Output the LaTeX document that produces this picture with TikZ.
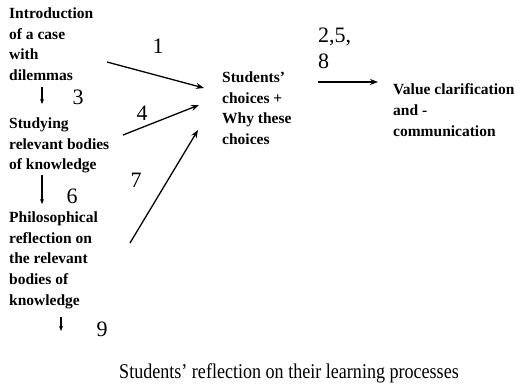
\documentclass[tikz,border=0pt]{standalone}
\usepackage{fontspec}
\setmainfont{Liberation Serif}
\newfontfamily\bottomfont[FakeStretch=0.86]{Liberation Serif}
\usetikzlibrary{arrows.meta}
\tikzset{
  blocktext/.style={anchor=north west, inner sep=0pt, align=left,
    font=\fontsize{15.5pt}{20.7pt}\selectfont\bfseries},
  numlabel/.style={anchor=center, inner sep=0pt, font=\fontsize{22pt}{24pt}\selectfont},
  numlabelw/.style={anchor=base west, inner sep=0pt, font=\fontsize{22pt}{26pt}\selectfont},
  bigarrow/.style={line width=1.3pt, -{Stealth[length=8pt,width=6pt]}},
  smallarrow/.style={line width=1.1pt, -{Stealth[length=5pt,width=4pt]}},
}
\begin{document}
\begin{tikzpicture}[x=1pt,y=-1pt]
\useasboundingbox (0,0) rectangle (522,391);
% text blocks
\node[blocktext] (intro) at (9,7.5) {Introduction\\of a case\\with\\dilemmas};
\node[blocktext] (study) at (9,117.5) {Studying\\relevant bodies\\of knowledge};
\node[blocktext] (philo) at (9,211.5) {Philosophical\\reflection on\\the relevant\\bodies of\\knowledge};
\node[blocktext] (choice) at (222,71.5) {Students’\\choices +\\Why these\\choices};
\node[blocktext] (value) at (393,83.5) {Value clarification\\and -\\communication};
\node[anchor=base, inner sep=0pt, font=\fontsize{21pt}{24pt}\bottomfont] (reflect) at (289,378) {Students’ reflection on their learning processes};
% number labels
\node[numlabel] (n1) at (158,46.5) {1};
\node[numlabel] (n3) at (78,97.5) {3};
\node[numlabel] (n4) at (142,113.5) {4};
\node[numlabel] (n6) at (72,196) {6};
\node[numlabel] (n7) at (136,180) {7};
\node[numlabel] (n9) at (102,329.5) {9};
\node[numlabelw] (n258) at (318,42) {2,5,};
\node[numlabelw] (n8) at (318,68) {8};
% connector end points
\coordinate (a1s) at (107,62);
\coordinate (a1e) at (204,88);
\coordinate (a4s) at (123,135);
\coordinate (a4e) at (199,105);
\coordinate (a7s) at (130,243);
\coordinate (a7e) at (198,130);
\coordinate (a2s) at (318,82);
\coordinate (a2e) at (378,82);
\coordinate (d1s) at (42,87);
\coordinate (d1e) at (42,104);
\coordinate (d2s) at (42,175);
\coordinate (d2e) at (42,204);
\coordinate (d3s) at (61,317);
\coordinate (d3e) at (61,331);
% arrows
\draw[bigarrow] (a1s) -- (a1e);
\draw[bigarrow] (a4s) -- (a4e);
\draw[bigarrow] (a7s) -- (a7e);
\draw[bigarrow] (a2s) -- (a2e);
\draw[smallarrow] (d1s) -- (d1e);
\draw[smallarrow] (d2s) -- (d2e);
\draw[smallarrow] (d3s) -- (d3e);
\end{tikzpicture}
\end{document}
